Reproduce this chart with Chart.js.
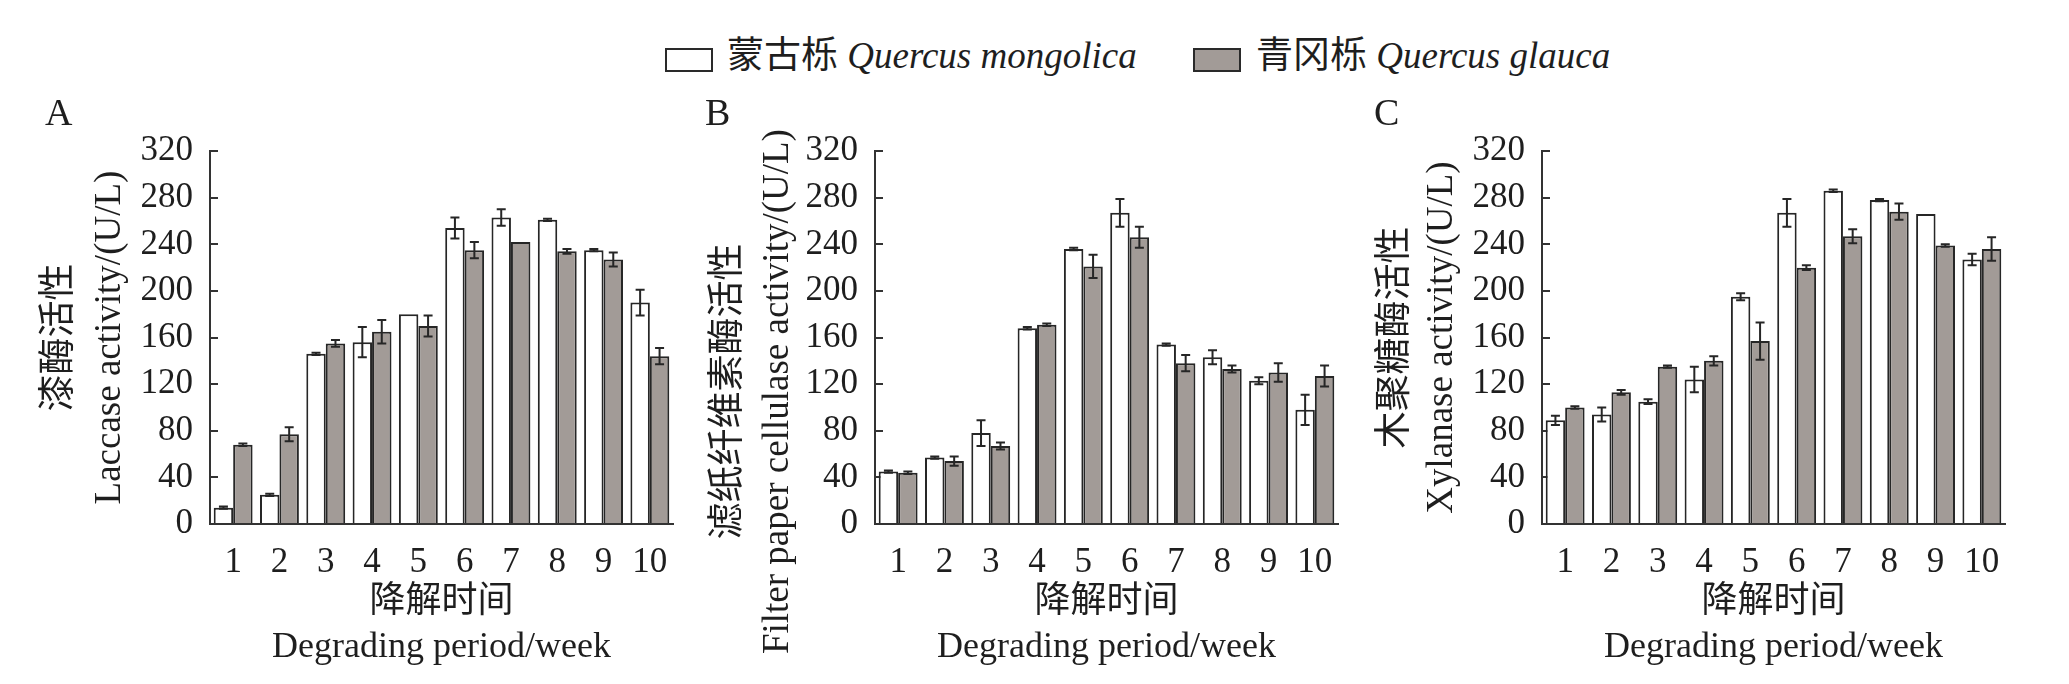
<!DOCTYPE html>
<html>
<head>
<meta charset="utf-8">
<script src="https://cdn.jsdelivr.net/npm/chart.js@4.4.1/dist/chart.umd.min.js"></script>
<style>
    body { margin: 0; background: #ffffff; width: 2069px; height: 684px; position: relative; overflow: hidden; }
    canvas { position: absolute; top: 0; }
    #panelA { left: 0; }
    #panelB { left: 690px; }
    #panelC { left: 1370px; }
    .key-box { position: absolute; top: 48px; width: 48px; height: 24px; box-sizing: border-box; border: 2px solid #2a2a2a; }
    .key-text { position: absolute; top: 36px; height: 40px; line-height: 40px; white-space: nowrap;
        font-family: "Liberation Serif", "Noto Sans CJK SC", serif; font-size: 37px; color: #1e1e1e; }
    .key-text i { font-style: italic; }
</style>
</head>
<body>
<div id="legend"></div>
<canvas id="panelA" width="700" height="684"></canvas>
<canvas id="panelB" width="680" height="684"></canvas>
<canvas id="panelC" width="699" height="684"></canvas>
<script>
// categories / tick labels
const weeks = ['1', '2', '3', '4', '5', '6', '7', '8', '9', '10'];
const yMin = 0;
const yMax = 320;
const yStep = 40;

// series names
const speciesCn = ['蒙古栎', '青冈栎'];
const speciesLatin = ['Quercus mongolica', 'Quercus glauca'];

// A: laccase
const laccaseMongolica = [14, 25, 146, 156, 180, 254, 263, 261, 235, 190];
const laccaseMongolicaErr = [1, 1, 1, 13, 0, 9, 7, 1, 1, 11];
const laccaseGlauca = [68, 77, 155, 165, 170, 235, 242, 234, 227, 144];
const laccaseGlaucaErr = [1, 6, 3, 10, 9, 7, 0, 2, 6, 7];

// B: filter paper cellulase
const filterMongolica = [45, 57, 78, 168, 236, 267, 154, 143, 123, 98];
const filterMongolicaErr = [1, 1, 11, 1, 1, 12, 1, 6, 3, 13];
const filterGlauca = [44, 54, 67, 171, 221, 246, 138, 133, 130, 127];
const filterGlaucaErr = [1, 4, 3, 1, 10, 9, 7, 3, 8, 9];

// C: xylanase
const xylanaseMongolica = [89, 94, 105, 124, 195, 267, 286, 278, 266, 227];
const xylanaseMongolicaErr = [4, 6, 2, 11, 3, 12, 1, 1, 0, 5];
const xylanaseGlauca = [100, 113, 135, 140, 157, 220, 247, 268, 239, 236];
const xylanaseGlaucaErr = [1, 2, 1, 4, 16, 2, 6, 7, 1, 10];

const FONT = '"Liberation Serif", "Noto Sans CJK SC", serif';
const INK = '#1e1e1e';
const fills = ['#ffffff', '#a29b97'];

Chart.defaults.font.family = FONT;
Chart.defaults.color = INK;

// error bars drawn from dataset.errors through the y scale
const errorBars = {
    id: 'errorBars',
    afterDatasetsDraw(chart, args, opts) {
        const ctx = chart.ctx;
        const yScale = chart.scales.y;
        ctx.save();
        ctx.strokeStyle = opts.color;
        ctx.lineWidth = opts.width;
        chart.data.datasets.forEach(function (ds, i) {
            chart.getDatasetMeta(i).data.forEach(function (bar, j) {
                const e = ds.errors[j];
                if (!e) return;
                const top = yScale.getPixelForValue(ds.data[j] + e);
                const bot = yScale.getPixelForValue(ds.data[j] - e);
                ctx.beginPath();
                ctx.moveTo(bar.x, top);
                ctx.lineTo(bar.x, bot);
                ctx.moveTo(bar.x - opts.cap, top);
                ctx.lineTo(bar.x + opts.cap, top);
                ctx.moveTo(bar.x - opts.cap, bot);
                ctx.lineTo(bar.x + opts.cap, bot);
                ctx.stroke();
            });
        });
        ctx.restore();
    }
};

// two-line rotated y title (the long one must not be squeezed)
const sideTitle = {
    id: 'sideTitle',
    afterDraw(chart, args, opts) {
        const ctx = chart.ctx;
        const area = chart.chartArea;
        ctx.save();
        ctx.fillStyle = INK;
        ctx.font = '37px ' + FONT;
        ctx.textAlign = 'center';
        ctx.textBaseline = 'middle';
        opts.lines.forEach(function (line, k) {
            ctx.save();
            ctx.translate(area.left - opts.gaps[k], (area.top + area.bottom) / 2 + opts.shift);
            ctx.rotate(-Math.PI / 2);
            ctx.fillText(line, 0, 0);
            ctx.restore();
        });
        ctx.restore();
    }
};

function drawPanel(id, letter, white, whiteErr, gray, grayErr, titleLines, box) {
    new Chart(document.getElementById(id), {
        type: 'bar',
        data: {
            labels: weeks,
            datasets: [{
                label: speciesCn[0] + ' ' + speciesLatin[0],
                data: white,
                errors: whiteErr,
                backgroundColor: fills[0],
                borderColor: '#262626',
                borderWidth: 2
            }, {
                label: speciesCn[1] + ' ' + speciesLatin[1],
                data: gray,
                errors: grayErr,
                backgroundColor: fills[1],
                borderColor: '#262626',
                borderWidth: 2
            }]
        },
        options: {
            responsive: false,
            animation: false,
            devicePixelRatio: 1,
            layout: {
                padding: { left: box.padLeft, top: 60, right: box.padRight, bottom: 13.5 }
            },
            datasets: {
                bar: { categoryPercentage: 0.84, barPercentage: 1.0 }
            },
            plugins: {
                legend: { display: false },
                tooltip: { enabled: false },
                title: {
                    display: true,
                    text: letter,
                    align: 'start',
                    color: INK,
                    font: { size: 38, weight: 'normal', lineHeight: 1.2 },
                    padding: { top: 32, bottom: 13.5 }
                },
                errorBars: { color: '#262626', width: 2, cap: 4.5 },
                sideTitle: { lines: titleLines, gaps: box.gaps, shift: box.shift }
            },
            scales: {
                x: {
                    grid: { display: false },
                    border: { display: true, color: '#333333', width: 2 },
                    ticks: { color: INK, padding: 10, font: { size: 35, lineHeight: 1.2 } },
                    title: {
                        display: true,
                        text: ['降解时间', 'Degrading period/week'],
                        color: INK,
                        padding: 0,
                        font: { size: 36, lineHeight: 1.25 }
                    },
                    afterFit: function (scale) { scale.height = 146.5; }
                },
                y: {
                    min: yMin,
                    max: yMax,
                    ticks: { stepSize: yStep, color: INK, padding: 25, font: { size: 35, lineHeight: 1.2 } },
                    grid: { drawOnChartArea: false, drawTicks: true, tickLength: -8, color: '#333333', lineWidth: 2 },
                    border: { display: true, color: '#333333', width: 2 },
                    afterFit: function (scale) { scale.width = box.yWidth; }
                }
            }
        },
        plugins: [errorBars, sideTitle]
    });
}

function drawLegend() {
    const legend = document.getElementById('legend');
    const boxLeft = [665, 1193];
    const textLeft = [727, 1256];
    speciesCn.forEach(function (name, i) {
        const sw = document.createElement('div');
        sw.className = 'key-box';
        sw.style.left = boxLeft[i] + 'px';
        sw.style.background = fills[i];
        legend.appendChild(sw);
        const tx = document.createElement('div');
        tx.className = 'key-text';
        tx.style.left = textLeft[i] + 'px';
        tx.innerHTML = name + ' <i>' + speciesLatin[i] + '</i>';
        legend.appendChild(tx);
    });
}

drawLegend();
drawPanel('panelA', 'A', laccaseMongolica, laccaseMongolicaErr, laccaseGlauca, laccaseGlaucaErr,
    ['漆酶活性', 'Laccase activity/(U/L)'],
    { padLeft: 45, padRight: 27, yWidth: 165, gaps: [150, 100], shift: 0 });
drawPanel('panelB', 'B', filterMongolica, filterMongolicaErr, filterGlauca, filterGlaucaErr,
    ['滤纸纤维素酶活性', 'Filter paper cellulase activity/(U/L)'],
    { padLeft: 15, padRight: 32, yWidth: 170, gaps: [146, 97], shift: 54 });
drawPanel('panelC', 'C', xylanaseMongolica, xylanaseMongolicaErr, xylanaseGlauca, xylanaseGlaucaErr,
    ['木聚糖酶活性', 'Xylanase activity/(U/L)'],
    { padLeft: 4, padRight: 64, yWidth: 168, gaps: [146, 100], shift: 0 });
</script>
</body>
</html>
